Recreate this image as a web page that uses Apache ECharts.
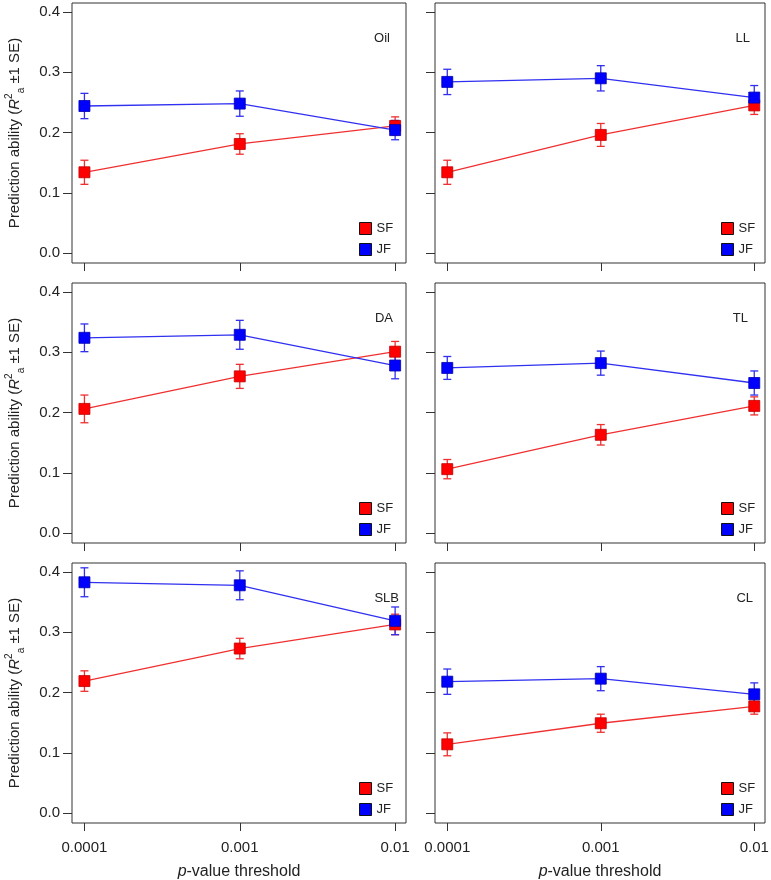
<!DOCTYPE html>
<html>
<head>
<meta charset="utf-8">
<script src="https://cdn.jsdelivr.net/npm/echarts@6/dist/echarts.min.js"></script>
<style>
  html, body { margin: 0; padding: 0; background: #fff; }
  #main { width: 771px; height: 880px; }
</style>
</head>
<body>
<div id="main"></div>
<script>
// p-value thresholds on the x axis
var thresholds = ['0.0001', '0.001', '0.01'];
var yTicks = [0, 0.1, 0.2, 0.3, 0.4];
var traits = ['Oil', 'LL', 'DA', 'TL', 'SLB', 'CL'];

// means and standard errors
var oilSF = [0.134, 0.181, 0.211], oilSFse = [0.020, 0.017, 0.015];
var oilJF = [0.244, 0.248, 0.204], oilJFse = [0.021, 0.021, 0.016];
var llSF = [0.134, 0.196, 0.245], llSFse = [0.020, 0.019, 0.015];
var llJF = [0.284, 0.290, 0.258], llJFse = [0.021, 0.021, 0.020];
var daSF = [0.206, 0.260, 0.301], daSFse = [0.023, 0.020, 0.017];
var daJF = [0.324, 0.329, 0.278], daJFse = [0.023, 0.024, 0.022];
var tlSF = [0.106, 0.163, 0.211], tlSFse = [0.016, 0.017, 0.015];
var tlJF = [0.274, 0.282, 0.249], tlJFse = [0.019, 0.020, 0.020];
var slbSF = [0.219, 0.273, 0.313], slbSFse = [0.017, 0.017, 0.017];
var slbJF = [0.383, 0.378, 0.319], slbJFse = [0.024, 0.024, 0.023];
var clSF = [0.114, 0.149, 0.177], clSFse = [0.019, 0.015, 0.013];
var clJF = [0.218, 0.223, 0.197], clJFse = [0.021, 0.020, 0.019];

var sfList = [oilSF, llSF, daSF, tlSF, slbSF, clSF];
var sfSeList = [oilSFse, llSFse, daSFse, tlSFse, slbSFse, clSFse];
var jfList = [oilJF, llJF, daJF, tlJF, slbJF, clJF];
var jfSeList = [oilJFse, llJFse, daJFse, tlJFse, slbJFse, clJFse];

var font = '"Liberation Sans", Arial, sans-serif';
var red = '#ff0000', blue = '#0000ff';

var colLeft = [72, 435], colWidth = [334, 330];
var rowTop = [3, 283, 563], panelH = 260;
var labelRight = [377, 17, 374, 19, 368, 14];

var grid = [], xAxis = [], yAxis = [], series = [], legend = [], title = [];

function errData(vals, se) {
  return vals.map(function (v, i) { return [i, v - se[i], v + se[i]]; });
}

function errRender(color) {
  return function (params, api) {
    var x = api.value(0);
    var lo = api.coord([x, api.value(1)]);
    var hi = api.coord([x, api.value(2)]);
    var w = 4;
    var st = { stroke: color, lineWidth: 1.3 };
    return {
      type: 'group',
      children: [
        { type: 'line', shape: { x1: lo[0], y1: lo[1], x2: hi[0], y2: hi[1] }, style: st },
        { type: 'line', shape: { x1: lo[0] - w, y1: lo[1], x2: lo[0] + w, y2: lo[1] }, style: st },
        { type: 'line', shape: { x1: hi[0] - w, y1: hi[1], x2: hi[0] + w, y2: hi[1] }, style: st }
      ]
    };
  };
}

traits.forEach(function (name, k) {
  var col = k % 2, row = Math.floor(k / 2);
  var bottomRow = row === 2;
  grid.push({
    left: colLeft[col], top: rowTop[row], width: colWidth[col], height: panelH,
    outerBoundsMode: 'none', containLabel: false,
    show: true, borderColor: '#333', borderWidth: 1, backgroundColor: 'transparent'
  });
  xAxis.push({
    type: 'value', gridIndex: k, min: -0.08, max: 2.07, position: 'bottom',
    axisLine: { show: false, onZero: false },
    splitLine: { show: false },
    axisTick: { show: true, length: 8, customValues: [0, 1, 2], lineStyle: { color: '#333' } },
    axisLabel: {
      show: bottomRow, customValues: [0, 1, 2], margin: 17,
      fontSize: 15, color: '#222', fontFamily: font,
      formatter: function (v) { return thresholds[Math.round(v)]; }
    },
    name: bottomRow ? '{i|p}-value threshold' : '',
    nameLocation: 'middle', nameGap: 41,
    nameTextStyle: {
      fontSize: 16, color: '#222', fontFamily: font,
      rich: { i: { fontStyle: 'italic', fontSize: 16, color: '#222', fontFamily: font } }
    }
  });
  yAxis.push({
    type: 'value', gridIndex: k, min: -0.0166, max: 0.415, position: 'left',
    axisLine: { show: false, onZero: false },
    splitLine: { show: false },
    axisTick: { show: true, length: 9, customValues: yTicks, lineStyle: { color: '#333' } },
    axisLabel: {
      show: col === 0, customValues: yTicks, margin: 12,
      fontSize: 15, color: '#222', fontFamily: font,
      formatter: function (v) { return v.toFixed(1); }
    },
    name: col === 0 ? '{t|Prediction ability (}{it|R}{sup|2}{sub|a}{t| \u00b11 SE)}' : '',
    nameLocation: 'middle', nameRotate: 90, nameGap: 46,
    nameTextStyle: {
      fontSize: 15, color: '#222', fontFamily: font,
      rich: {
        t: { fontSize: 15, color: '#222', fontFamily: font, lineHeight: 22 },
        it: { fontSize: 15, color: '#222', fontFamily: font, fontStyle: 'italic', lineHeight: 22 },
        sup: { fontSize: 10, color: '#222', fontFamily: font, verticalAlign: 'top', lineHeight: 22 },
        sub: { fontSize: 10, color: '#222', fontFamily: font, verticalAlign: 'bottom', lineHeight: 22 }
      }
    }
  });
  title.push({
    text: name, right: labelRight[k] - 1, top: rowTop[row] + 24,
    textStyle: { fontSize: 13, fontWeight: 'normal', color: '#222', fontFamily: font }
  });
  legend.push({
    data: ['SF', 'JF'], orient: 'vertical', selectedMode: false,
    left: col === 0 ? 354 : 716, top: rowTop[row] + 214,
    icon: 'rect', itemWidth: 12, itemHeight: 12, itemGap: 8,
    itemStyle: { borderColor: '#111', borderWidth: 1 },
    textStyle: { fontSize: 13, color: '#222', fontFamily: font }
  });
  series.push({
    name: 'SF err', type: 'custom', xAxisIndex: k, yAxisIndex: k,
    renderItem: errRender('#ee3030'), encode: { x: 0, y: [1, 2] },
    data: errData(sfList[k], sfSeList[k]), z: 2, silent: true
  });
  series.push({
    name: 'JF err', type: 'custom', xAxisIndex: k, yAxisIndex: k,
    renderItem: errRender('#3030ee'), encode: { x: 0, y: [1, 2] },
    data: errData(jfList[k], jfSeList[k]), z: 2, silent: true
  });
  series.push({
    name: 'SF', type: 'line', xAxisIndex: k, yAxisIndex: k,
    data: sfList[k].map(function (v, i) { return [i, v]; }),
    symbol: 'rect', symbolSize: 11, z: 3,
    lineStyle: { color: '#f03030', width: 1.3 },
    itemStyle: { color: red, borderColor: '#c00000', borderWidth: 0.8 }
  });
  series.push({
    name: 'JF', type: 'line', xAxisIndex: k, yAxisIndex: k,
    data: jfList[k].map(function (v, i) { return [i, v]; }),
    symbol: 'rect', symbolSize: 11, z: 3,
    lineStyle: { color: '#3030f0', width: 1.3 },
    itemStyle: { color: blue, borderColor: '#0000b0', borderWidth: 0.8 }
  });
});

var myChart = echarts.init(document.getElementById('main'));
myChart.setOption({
  animation: false,
  backgroundColor: '#fff',
  title: title,
  legend: legend,
  grid: grid,
  xAxis: xAxis,
  yAxis: yAxis,
  series: series
});
</script>
</body>
</html>
